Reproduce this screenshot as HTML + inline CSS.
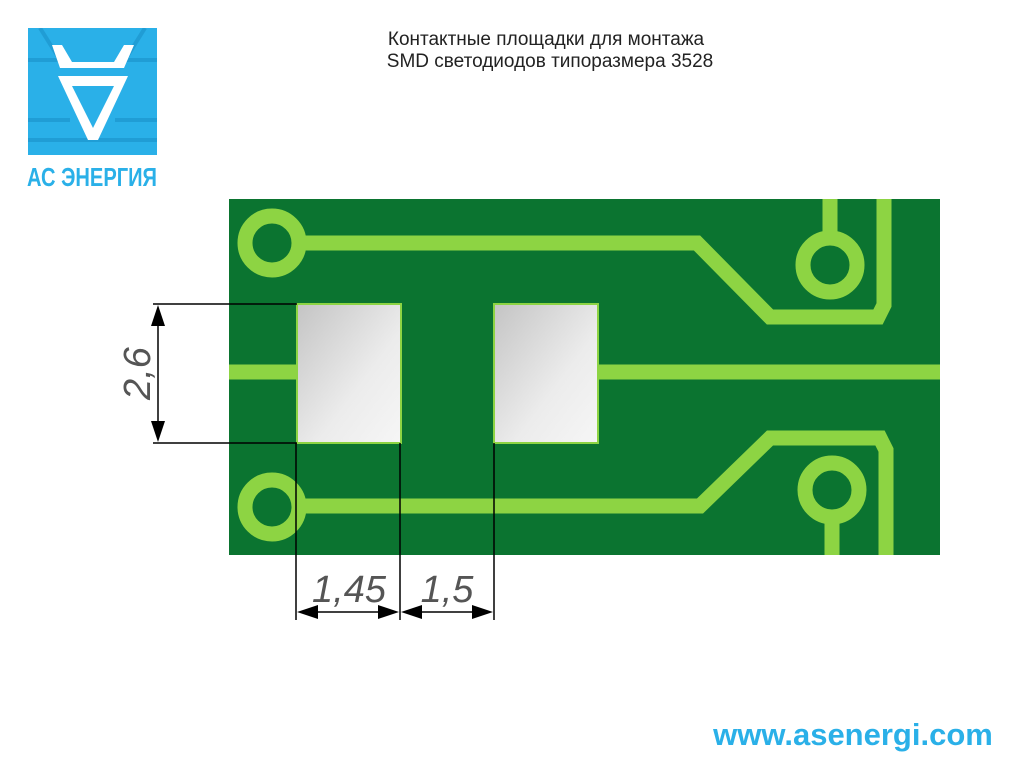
<!DOCTYPE html><html><head><meta charset="utf-8"><style>
body{margin:0;width:1024px;height:768px;background:#fff;overflow:hidden;font-family:"Liberation Sans",sans-serif}
</style></head><body>
<svg width="1024" height="768" viewBox="0 0 1024 768" xmlns="http://www.w3.org/2000/svg">
<defs><linearGradient id="pg" x1="0" y1="0" x2="1" y2="1"><stop offset="0" stop-color="#c4c4c4"/><stop offset="0.6" stop-color="#ececec"/><stop offset="1" stop-color="#f6f6f6"/></linearGradient>
<clipPath id="lc"><rect x="28" y="28" width="129" height="127"/></clipPath></defs>
<text x="546" y="45" font-size="19" text-anchor="middle" fill="#222">Контактные площадки для монтажа</text>
<text x="550" y="67" font-size="19" text-anchor="middle" fill="#222">SMD светодиодов типоразмера 3528</text>
<!-- logo -->
<rect x="28" y="28" width="129" height="127" fill="#2ab0e8"/>
<g fill="none" stroke="#1e98d0" stroke-width="4" opacity="0.8" clip-path="url(#lc)">
<path d="M28 60 L60 60 M125 60 L157 60 M28 120 L70 120 M115 120 L157 120 M28 140 L157 140 M40 28 L60 60 M145 28 L125 60"/>
</g>
<path d="M52 45 L62 45 L72 62 L114 62 L124 45 L134 45 L124 68 L60 68 Z" fill="#fff"/>
<path d="M58 76 L128 76 L98 140 L88 140 Z M72 86 L93 128 L114 86 Z" fill="#fff" fill-rule="evenodd"/>
<text x="92" y="186" font-size="26" font-weight="bold" text-anchor="middle" fill="#2ab0e8" textLength="130" lengthAdjust="spacingAndGlyphs">АС ЭНЕРГИЯ</text>
<!-- board -->
<rect x="229" y="199" width="711" height="356" fill="#0b7430"/>
<g stroke="#8dd443" stroke-width="15" fill="none">
<circle cx="272" cy="243" r="27"/>
<circle cx="272" cy="507" r="27"/>
<circle cx="830" cy="265" r="27"/>
<circle cx="832" cy="490" r="27"/>
<path d="M299 243 L697 243 L770 317 L878 317 L884 305 L884 199"/>
<path d="M299 506 L700 506 L770 438 L880 438 L886 450 L886 555"/>
<path d="M830 199 L830 238 M832 517 L832 555"/>
<path d="M229 372 L300 372 M596 372 L940 372"/>
</g>
<rect x="297" y="304" width="104" height="139" fill="url(#pg)" stroke="#8dd443" stroke-width="2"/>
<rect x="494" y="304" width="104" height="139" fill="url(#pg)" stroke="#8dd443" stroke-width="2"/>
<!-- dims -->
<g stroke="#000" stroke-width="1.5" fill="none">
<path d="M153 304 L297 304 M153 443 L297 443 M158 320 L158 428"/>
<path d="M296 443 L296 620 M400 443 L400 620 M494 443 L494 620 M316 612 L380 612 M420 612 L474 612"/>
</g>
<g fill="#000">
<path d="M158 305 L151 326 L165 326 Z M158 442 L151 421 L165 421 Z"/>
<path d="M297 612 L318 605 L318 619 Z M399 612 L378 605 L378 619 Z M401 612 L422 605 L422 619 Z M493 612 L472 605 L472 619 Z"/>
</g>
<text x="0" y="0" font-size="38" font-style="italic" fill="#555" transform="translate(150 400) rotate(-90)">2,6</text>
<text x="349" y="602" font-size="38" font-style="italic" fill="#555" text-anchor="middle">1,45</text>
<text x="447" y="602" font-size="38" font-style="italic" fill="#555" text-anchor="middle">1,5</text>
<text x="853" y="745" font-size="31" font-weight="bold" fill="#2ab0e8" text-anchor="middle">www.asenergi.com</text>
</svg>
</body></html>
